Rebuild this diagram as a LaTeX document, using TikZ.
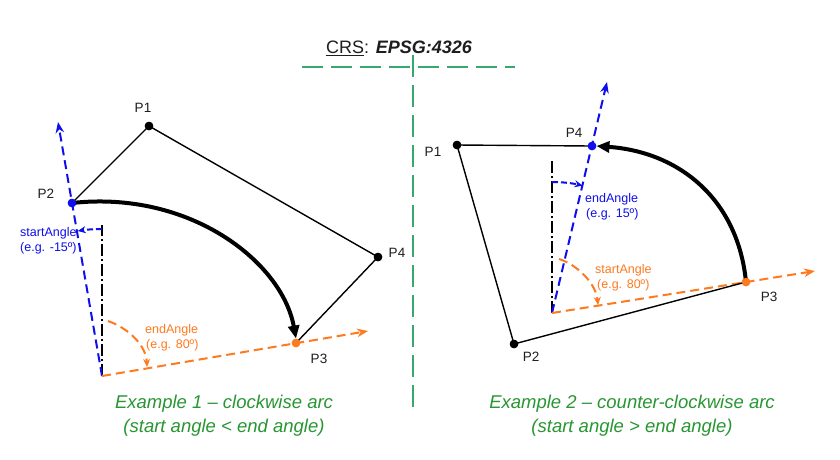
\documentclass[tikz,border=0pt]{standalone}
\usepackage{fontspec}
\setmainfont{Liberation Sans}
\usetikzlibrary{arrows.meta,calc}
\definecolor{myblue}{RGB}{15,15,235}
\definecolor{myorange}{RGB}{255,122,30}
\definecolor{mygreen}{RGB}{40,150,50}
\definecolor{linegreen}{RGB}{55,168,110}
\definecolor{txt}{RGB}{30,30,30}
\begin{document}
\begin{tikzpicture}[x=1pt,y=-1pt,
  dot/.style={circle,fill,inner sep=0pt,minimum size=8.5pt},
  edgeline/.style={line width=1.4pt,black},
  bigarc/.style={line width=4pt,black,-{Triangle[length=13pt,width=11pt]}},
  bluedash/.style={myblue,line width=2pt,dash pattern=on 9pt off 5pt},
  orangedash/.style={myorange,line width=2pt,dash pattern=on 9pt off 5pt},
  blackdash/.style={black,line width=1.8pt,dash pattern=on 12pt off 3pt on 2pt off 3pt},
  longtip/.style={-{Stealth[length=11pt,width=8.5pt]}},
  smalltip/.style={-{Stealth[length=8pt,width=7pt]}},
  greendash/.style={linegreen,line width=2pt,dash pattern=on 21pt off 8pt},
  lbl/.style={txt,font=\fontsize{13.5}{16}\selectfont,inner sep=0pt},
  small/.style={font=\fontsize{12.5}{15}\selectfont,inner sep=0pt,align=left,anchor=west},
  caption/.style={mygreen,font=\fontsize{18.5}{24}\selectfont\itshape,align=center,inner sep=0pt}
]
\useasboundingbox (0,0) rectangle (840,459);
\fill[white] (0,0) rectangle (840,459);

% ---------- center ----------
\draw[greendash] (302,67) coordinate (gh1) -- (515,67) coordinate (gh2);
\draw[greendash,dash pattern=on 22pt off 8pt] (413,55) coordinate (gv1) -- (413,410) coordinate (gv2);
\node[txt,font=\fontsize{18}{22}\selectfont,inner sep=0pt] (title) at (399,48)
  {\underline{CRS}: \textbf{\textit{EPSG:4326}}};

% ---------- example 1 ----------
\coordinate (O1) at (102,376);
\coordinate (A1) at (58,122);
\coordinate (E1) at (368,331);
\coordinate (V1) at (102,225);
\node[dot,myblue] (aP2) at (72,203) {};
\node[dot] (aP1) at (149,126) {};
\node[dot] (aP4) at (378,257) {};
\node[dot,myorange] (aP3) at (296,343) {};

\draw[blackdash] (O1) -- (V1);
\draw[bluedash,longtip] (O1) -- (A1);
\draw[orangedash,longtip] (O1) -- (E1);
\draw[bluedash,dash pattern=on 6pt off 3pt,smalltip] ($(O1)+(0,-147)$) arc[start angle=-90,end angle=-99.5,radius=147];
\draw[orangedash,smalltip] (108,321) .. controls (128,328) and (146,345) .. (147,367);

\draw[edgeline] (aP2.center) -- (aP1.center) -- (aP4.center) -- (aP3.center);
\draw[bigarc] (aP2.center) .. controls (190,190) and (282,262) .. (aP3.north);

\node[dot,myblue] at (aP2) {};
\node[dot] at (aP1) {};
\node[dot] at (aP4) {};
\node[dot,myorange] at (aP3) {};

\node[lbl] (taP1) at (143,108) {P1};
\node[lbl] (taP2) at (46,194) {P2};
\node[lbl] (taP3) at (319,359) {P3};
\node[lbl] (taP4) at (397,253) {P4};
\node[small,myblue] (tsa1) at (20,233) {startAngle};
\node[small,myblue] (tsb1) at (20,248) {(e.g. -15º)};
\node[small,myorange] (tea1) at (145,330) {endAngle};
\node[small,myorange] (teb1) at (146,345) {(e.g. 80º)};
\node[caption] (cap1) at (224,416) {Example 1 – clockwise arc\\(start angle < end angle)};

% ---------- example 2 ----------
\coordinate (O2) at (552,313);
\coordinate (A2) at (607,82);
\coordinate (E2) at (815,271);
\coordinate (V2) at (552,161);
\node[dot] (bP1) at (457,145) {};
\node[dot,myblue] (bP4) at (592,146) {};
\node[dot] (bP2) at (514,344) {};
\node[dot,myorange] (bP3) at (746,282) {};

\draw[blackdash] (O2) -- (V2);
\draw[bluedash,longtip] (O2) -- (A2);
\draw[orangedash,longtip] (O2) -- (E2);
\draw[bluedash,dash pattern=on 6pt off 3pt,smalltip] ($(O2)+(0,-131)$) arc[start angle=-90,end angle=-76.5,radius=131];
\draw[orangedash,smalltip] (559,259) .. controls (578,265) and (596,284) .. (598,305);

\draw[edgeline] (bP4.center) -- (bP1.center) -- (bP2.center) -- (bP3.center);
\draw[bigarc] (bP3.center) .. controls (738,200) and (680,152) .. (bP4.east);

\node[dot] at (bP1) {};
\node[dot,myblue] at (bP4) {};
\node[dot] at (bP2) {};
\node[dot,myorange] at (bP3) {};

\node[lbl] (tbP1) at (433,152) {P1};
\node[lbl] (tbP4) at (574,133) {P4};
\node[lbl] (tbP2) at (531,357) {P2};
\node[lbl] (tbP3) at (769,297) {P3};
\node[small,myblue] (tea2) at (585,199) {endAngle};
\node[small,myblue] (teb2) at (586,214) {(e.g. 15º)};
\node[small,myorange] (tsa2) at (595,270) {startAngle};
\node[small,myorange] (tsb2) at (597,285) {(e.g. 80º)};
\node[caption] (cap2) at (632,416) {Example 2 – counter-clockwise arc\\(start angle > end angle)};
\end{tikzpicture}
\end{document}
